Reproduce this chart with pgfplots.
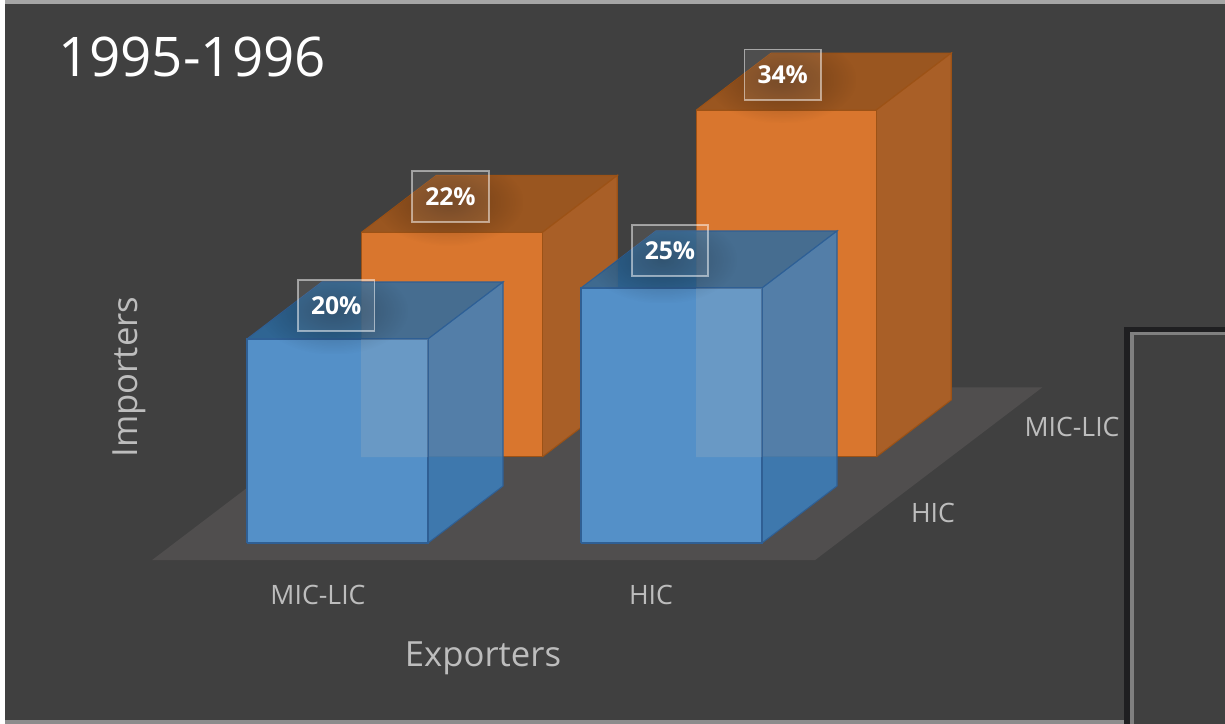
\documentclass[border=0pt]{standalone}
\usepackage{pgfplots}
\pgfplotsset{compat=1.18}
\usetikzlibrary{fadings}
\usepackage{fontspec}
\setmainfont{Open Sans}
\definecolor{bg}{HTML}{404040}
\definecolor{floorc}{HTML}{504E4E}
\definecolor{ofront}{HTML}{D9762E}
\definecolor{otop}{HTML}{9A5620}
\definecolor{oside}{HTML}{A95F27}
\definecolor{oedge}{HTML}{9C5216}
\definecolor{bfront}{HTML}{5490C8}
\definecolor{btop}{HTML}{2D6CA2}
\definecolor{bside}{HTML}{3C80BE}
\definecolor{bedge}{HTML}{2F5F94}
\definecolor{overlapc}{HTML}{AAB4BE}
\tikzfading[name=softbox,inner color=transparent!0,outer color=transparent!100]
\newcommand{\cuboid}[6]{%
  \addplot3[fill=#6top,draw=#6edge,line width=0.8pt,#6style] coordinates {(#1,#3,#5)(#2,#3,#5)(#2,#4,#5)(#1,#4,#5)(#1,#3,#5)};
  \addplot3[fill=#6side,draw=#6edge,line width=0.8pt,#6style] coordinates {(#2,#3,0)(#2,#4,0)(#2,#4,#5)(#2,#3,#5)(#2,#3,0)};
  \addplot3[fill=#6front,draw=#6edge,line width=0.8pt] coordinates {(#1,#3,0)(#2,#3,0)(#2,#3,#5)(#1,#3,#5)(#1,#3,0)};
}
% soft shadow of a data label, kept on the top and front faces of its bar
\newcommand{\labelshadow}[7]{%
  \begin{scope}
  \clip (axis cs:#1,#3,0) -- (axis cs:#2,#3,0) -- (axis cs:#2,#3,#5) -- (axis cs:#2,#4,#5) -- (axis cs:#1,#4,#5) -- (axis cs:#1,#3,#5) -- cycle;
  \node[fill=black,draw=none,opacity=0.3,path fading=softbox,minimum width=112pt,minimum height=66pt,inner sep=0pt] at (axis cs:#6,#7,#5) {};
  \end{scope}
}
\pgfplotsset{ostyle/.style={},bstyle/.style={fill opacity=0.85}}
\begin{document}
\begin{tikzpicture}[x=0.75pt,y=-0.75pt]
\path[use as bounding box] (0,0) rectangle (1225,724);
\fill[bg] (0,0) rectangle (1225,724);
\fill[white] (0,0) rectangle (5,724);
\fill[black!35] (5,0) rectangle (1225,4);
\fill[black!45] (5,720) rectangle (1225,724);
\begin{axis}[
  at={(0pt,-407.25pt)},anchor=origin,disabledatascaling,
  x={(0.75pt,0pt)},y={(56.25pt,42.75pt)},z={(0pt,7.65pt)},
  xmin=0,xmax=1225,ymin=-0.3,ymax=3,zmin=0,zmax=40,
  hide axis,clip=false,
  ]
% floor
\addplot3[fill=floorc,draw=none] coordinates {(174.5,-0.3,0)(837.5,-0.3,0)(837.5,2.73,0)(174.5,2.73,0)(174.5,-0.3,0)};
% back row (orange), depth 1.51 to 2.51
\cuboid{248}{429}{1.51}{2.51}{22}{o}
\cuboid{583}{763}{1.51}{2.51}{34}{o}
\labelshadow{248}{429}{1.51}{2.51}{22}{295}{2.05}
\labelshadow{583}{763}{1.51}{2.51}{34}{628}{2.05}
% front row (blue), depth 0 to 1
\cuboid{247}{428}{0}{1}{20}{b}
\cuboid{581}{762}{0}{1}{25}{b}
% orange seen through the blue fronts
\addplot3[fill=overlapc,fill opacity=0.25,draw=none] coordinates {(361,0,8.43)(428,0,8.43)(428,0,20)(361,0,20)(361,0,8.43)};
\addplot3[fill=overlapc,fill opacity=0.25,draw=none] coordinates {(696,0,8.43)(762,0,8.43)(762,0,25)(696,0,25)(696,0,8.43)};
\labelshadow{247}{428}{0}{1}{20}{296}{0.5}
\labelshadow{581}{762}{0}{1}{25}{625}{0.5}
% data labels
\addplot3[point meta=explicit symbolic,nodes near coords,mark=none,draw=none,
  every node near coord/.style={anchor=center,draw=white,draw opacity=0.5,line width=1.3pt,
    fill=white,fill opacity=0.08,text opacity=1,text=white,inner sep=0pt,
    minimum width=57.5pt,minimum height=38pt,font=\bfseries\fontsize{18.5}{22}\selectfont}]
  coordinates {(292,0.59,20)[20\%] (620.5,0.66,25)[25\%] (290,2.14,22)[22\%] (623,2.13,34)[34\%]};
\end{axis}
\node[text=white,font=\fontsize{41}{48}\selectfont] at (192,57) {1995-1996};
\definecolor{lab}{HTML}{BDBDBD}
\node[text=lab,font=\fontsize{20}{24}\selectfont] at (318,595) {MIC-LIC};
\node[text=lab,font=\fontsize{20}{24}\selectfont] at (651,595) {HIC};
\node[text=lab,font=\fontsize{20}{24}\selectfont] at (933,513) {HIC};
\node[text=lab,font=\fontsize{20}{24}\selectfont] at (1072,427) {MIC-LIC};
\node[text=lab,font=\fontsize{26}{30}\selectfont] at (483,658) {Exporters};
\node[text=lab,rotate=90,font=\fontsize{26}{30}\selectfont] at (129,377) {Importers};
% inset window frame
\definecolor{framec}{HTML}{1F1F21}
\fill[framec] (1124,327) rectangle (1225,724);
\fill[black!50!white] (1130,332) rectangle (1225,724);
\fill[bg] (1134,335) rectangle (1225,724);
\end{tikzpicture}
\end{document}
